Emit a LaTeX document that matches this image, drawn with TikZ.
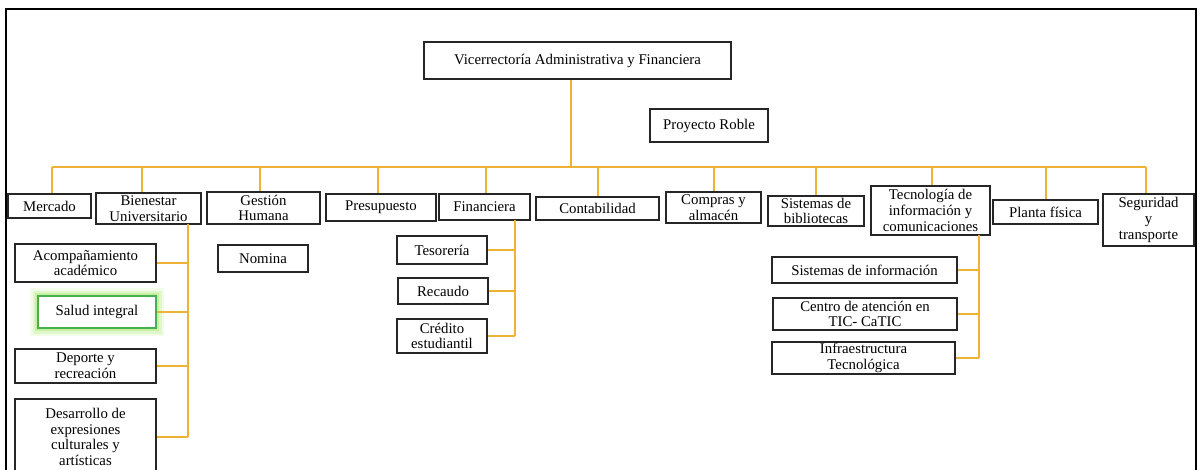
\documentclass[tikz,border=0pt]{standalone}
\usepackage{fontspec}
\setmainfont{Liberation Serif}
\definecolor{naranja}{RGB}{238,178,52}
\definecolor{verde}{RGB}{70,175,80}
\definecolor{brillo}{RGB}{170,235,110}
\begin{document}
\begin{tikzpicture}[x=1pt,y=-1pt,
    caja/.style={draw=black!85,line width=1.6pt,align=center,inner sep=1pt,
        font=\fontsize{14.8}{15.6}\selectfont},
    linea/.style={draw=naranja,line width=1.8pt}]
    \useasboundingbox (0,0) rectangle (1199,469);
    \clip (0,0) rectangle (1199,469);
    \fill[white] (0,0) rectangle (1199,469);
    \draw[line width=2.4pt] (6,9) rectangle (1196,520);

    \node[caja,minimum width=307,minimum height=37] (vaf) at (577.5,60.5) {Vicerrectoría Administrativa y Financiera};
    \node[caja,minimum width=118,minimum height=33] (roble) at (709,125.5) {Proyecto Roble};

    \node[caja,minimum width=83,minimum height=24] (mercado) at (49.5,206) {Mercado};
    \node[caja,minimum width=105,minimum height=31] (bienestar) at (148.5,208.5) {Bienestar\\Universitario};
    \node[caja,minimum width=113,minimum height=32] (gestion) at (263.5,208) {Gestión\\Humana};
    \node[caja,minimum width=110,minimum height=27] (presupuesto) at (381,207.5) {Presupuesto};
    \node[caja,minimum width=91,minimum height=26] (financiera) at (484.5,207) {Financiera};
    \node[caja,minimum width=123,minimum height=23] (contabilidad) at (597.5,208.5) {Contabilidad};
    \node[caja,minimum width=95,minimum height=31] (compras) at (713.5,207.5) {Compras y\\almacén};
    \node[caja,minimum width=96,minimum height=30] (bibliotecas) at (816,211) {Sistemas de\\bibliotecas};
    \node[caja,minimum width=119,minimum height=49] (tic) at (930.5,210.5) {Tecnología de\\información y\\comunicaciones};
    \node[caja,minimum width=105,minimum height=24] (planta) at (1045.5,212) {Planta física};
    \node[caja,minimum width=91,minimum height=52] (seguridad) at (1148.5,220) {Seguridad\\y\\transporte};

    \node[caja,minimum width=141,minimum height=38] (acomp) at (85.5,263) {Acompañamiento\\académico};
    \node[caja,draw=verde,fill=white,minimum width=118,minimum height=32,
        preaction={draw=brillo,line width=16pt,opacity=0.15,rounded corners=6pt},
        preaction={draw=brillo,line width=11pt,opacity=0.25,rounded corners=4pt},
        preaction={draw=brillo,line width=6pt,opacity=0.45}] (salud) at (97,312) {Salud integral};
    \node[caja,minimum width=141,minimum height=34] (deporte) at (85.5,366) {Deporte y\\recreación};
    \node[caja,minimum width=141,minimum height=76] (desarrollo) at (85.5,437) {Desarrollo de\\expresiones\\culturales y\\artísticas};

    \node[caja,minimum width=90,minimum height=27] (nomina) at (263,258.5) {Nomina};

    \node[caja,minimum width=90,minimum height=28] (tesoreria) at (442,250) {Tesorería};
    \node[caja,minimum width=90,minimum height=26] (recaudo) at (443,291) {Recaudo};
    \node[caja,minimum width=90,minimum height=34] (credito) at (442,336) {Crédito\\estudiantil};

    \node[caja,minimum width=185,minimum height=26] (sisinfo) at (864.5,270) {Sistemas de información};
    \node[caja,minimum width=184,minimum height=32] (centro) at (865,314) {Centro de atención en\\TIC- CaTIC};
    \node[caja,minimum width=183,minimum height=32] (infra) at (863.5,358) {Infraestructura\\Tecnológica};

    \coordinate (bus) at (0,167);
    \coordinate (bsp) at (188,224);
    \coordinate (fsp) at (515,220);
    \coordinate (tsp) at (979,235);

    \coordinate (arriba) at (571,0);
    \draw[linea] (arriba |- vaf.south) -- (arriba |- bus);
    \draw[linea] (52,167) -- (1146,167);
    \foreach \n/\x in {mercado/52,bienestar/142,gestion/260,presupuesto/378,financiera/486,contabilidad/598,
        compras/714,bibliotecas/816,tic/932,planta/1046,seguridad/1146} {
        \coordinate (baja) at (\x,167);
        \draw[linea] (baja) -- (baja |- \n.north);
    }

    \draw[linea] (bsp) -- (bsp |- desarrollo.east);
    \foreach \n in {acomp,salud,deporte,desarrollo} {
        \draw[linea] (\n.east) -- (\n.east -| bsp);
    }
    \draw[linea] (fsp) -- (fsp |- credito.east);
    \foreach \n in {tesoreria,recaudo,credito} {
        \draw[linea] (\n.east) -- (\n.east -| fsp);
    }
    \draw[linea] (tsp) -- (tsp |- infra.east);
    \foreach \n in {sisinfo,centro,infra} {
        \draw[linea] (\n.east) -- (\n.east -| tsp);
    }
\end{tikzpicture}
\end{document}
